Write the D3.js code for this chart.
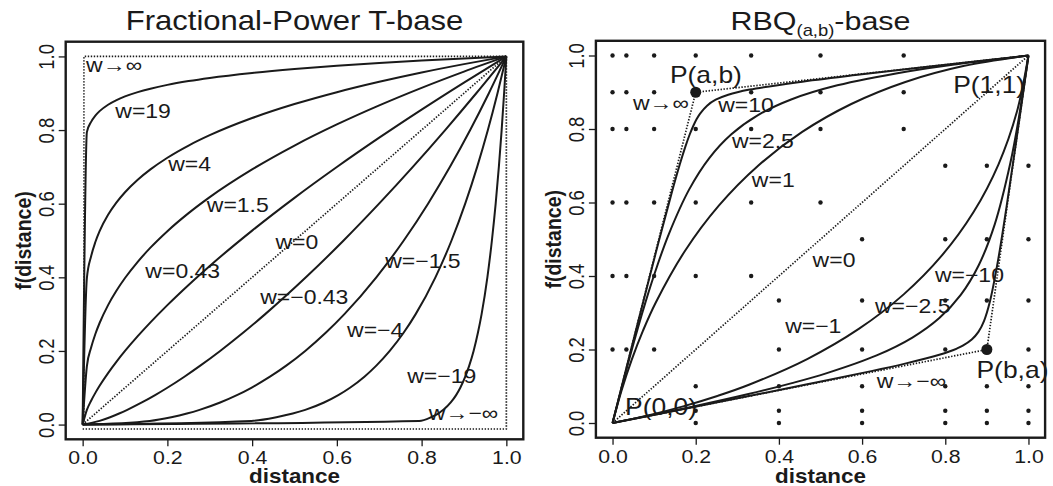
<!DOCTYPE html>
<html><head><meta charset="utf-8">
<script src="https://cdn.jsdelivr.net/npm/d3@7/dist/d3.min.js"></script>
<style>
html,body{margin:0;padding:0;background:#fff;}
svg{display:block;}
text{font-family:"Liberation Sans",Arial,Helvetica,sans-serif;fill:#1a1a1a;}
</style></head><body>
<svg id="chart" width="1053" height="486"></svg>
<script>
// ---------------- data ----------------
const tickValues = [0, 0.2, 0.4, 0.6, 0.8, 1.0];
const tickLabels = ["0.0", "0.2", "0.4", "0.6", "0.8", "1.0"];
const xAxisTitle = "distance";
const yAxisTitle = "f(distance)";

// Left panel: Fractional-Power T-base
const fpX    = [0,0.01,0.02,0.03,0.04,0.06,0.08,0.1,0.13,0.16,0.2,0.25,0.3,0.4,0.5,0.6,0.7,0.8,0.9,1];
const fpW19  = [0,0.7943,0.8223,0.8392,0.8514,0.8688,0.8814,0.8913,0.9030,0.9124,0.9227,0.9330,0.9416,0.9552,0.9659,0.9748,0.9823,0.9889,0.9947,1];
const fpW4   = [0,0.3981,0.4573,0.4959,0.5253,0.5697,0.6034,0.6310,0.6650,0.6931,0.7248,0.7579,0.7860,0.8326,0.8706,0.9029,0.9311,0.9564,0.9791,1];
const fpW15  = [0,0.1585,0.2091,0.2460,0.2759,0.3245,0.3641,0.3981,0.4421,0.4805,0.5253,0.5743,0.6178,0.6931,0.7579,0.8152,0.8670,0.9146,0.9587,1];
const fpW043 = [0,0.0399,0.0648,0.0861,0.1053,0.1398,0.1710,0.1999,0.2401,0.2776,0.3245,0.3793,0.4309,0.5269,0.6159,0.6996,0.7793,0.8556,0.9290,1];
// negative-w curves are the mirror images (x and y exchanged)
const fpCurves = [
  {xs: fpX, ys: fpW19}, {xs: fpX, ys: fpW4}, {xs: fpX, ys: fpW15}, {xs: fpX, ys: fpW043},
  {xs: fpW043, ys: fpX}, {xs: fpW15, ys: fpX}, {xs: fpW4, ys: fpX}, {xs: fpW19, ys: fpX}
];
const fpDiagX = [0, 1], fpDiagY = [0, 1];
const fpInfX = [0.003, 0.003, 1], fpInfY = [0, 1, 1];
const fpNegInfX = [0, 1, 1], fpNegInfY = [-0.012, -0.012, 1];
const fpLabels = ["w→∞","w=19","w=4","w=1.5","w=0.43","w=0","w=−0.43","w=−1.5","w=−4","w=−19","w→−∞"];
const fpLabelX = [0.008,0.077,0.202,0.293,0.148,0.455,0.419,0.714,0.624,0.766,0.817];
const fpLabelY = [0.957,0.833,0.689,0.578,0.397,0.478,0.328,0.424,0.239,0.113,0.012];

// Right panel: RBQ(a,b)-base
const rbqW10x  = [0,0.0583,0.1038,0.1412,0.1616,0.1753,0.1857,0.1946,0.2026,0.2105,0.2273,0.2481,0.2782,0.3299,0.4466,0.5889,0.7679,1];
const rbqW10y  = [0,0.2611,0.4623,0.6221,0.7033,0.7526,0.7857,0.8096,0.8278,0.8421,0.8636,0.8797,0.8933,0.9072,0.9275,0.9474,0.9707,1];
const rbqW25x  = [0,0.0438,0.0787,0.1085,0.1351,0.1840,0.2326,0.2857,0.3488,0.4294,0.5405,0.7087,0.8315,1];
const rbqW25y  = [0,0.1893,0.3268,0.4313,0.5135,0.6350,0.7209,0.7857,0.8372,0.8804,0.9189,0.9567,0.9770,1];
const rbqW1x   = [0,0.0215,0.046,0.0735,0.104,0.174,0.256,0.35,0.456,0.574,0.704,0.846,1];
const rbqW1y   = [0,0.088,0.172,0.252,0.328,0.468,0.592,0.70,0.792,0.868,0.928,0.972,1];
const rbqCurves = [
  {xs: rbqW10x, ys: rbqW10y}, {xs: rbqW25x, ys: rbqW25y}, {xs: rbqW1x, ys: rbqW1y},
  {xs: rbqW10y, ys: rbqW10x}, {xs: rbqW25y, ys: rbqW25x}, {xs: rbqW1y, ys: rbqW1x}
];
const rbqDiagX = [0, 1], rbqDiagY = [0, 1];
const rbqInfX = [0, 0.2, 1], rbqInfY = [0, 0.9, 1];
const rbqNegInfX = [0, 0.9, 1], rbqNegInfY = [0, 0.2, 1];
const rbqBigX = [0.2, 0.9], rbqBigY = [0.9, 0.2];
const dotX = [0,0.0333,0.1, 0,0.0333,0.1,0.2,0.3333, 0,0.0333,0.1,0.2,0.3333,0.5, 0,0.0333,0.1,0.2,0.3333,0.5,0.7, 0,0.0333,0.1,0.3333,0.5,0.7, 0,0.0333,0.1,0.2,0.3333,0.5,0.7,
              0.2,0.2,0.2, 0.4,0.4,0.4,0.4,0.4, 0.6,0.6,0.6,0.6,0.6,0.6, 0.8,0.8,0.8,0.8,0.8,0.8,0.8, 0.9,0.9,0.9,0.9,0.9,0.9, 1,1,1,1,1,1,1];
const dotY = [0.2,0.2,0.2, 0.4,0.4,0.4,0.4,0.4, 0.6,0.6,0.6,0.6,0.6,0.6, 0.8,0.8,0.8,0.8,0.8,0.8,0.8, 0.9,0.9,0.9,0.9,0.9,0.9, 1,1,1,1,1,1,1,
              0,0.0333,0.1, 0,0.0333,0.1,0.2,0.3333, 0,0.0333,0.1,0.2,0.3333,0.5, 0,0.0333,0.1,0.2,0.3333,0.5,0.7, 0,0.0333,0.1,0.3333,0.5,0.7, 0,0.0333,0.1,0.2,0.3333,0.5,0.7];
const rbqLabels = ["P(a,b)","w→∞","w=10","w=2.5","w=1","P(1,1)","w=0","w=−10","w=−2.5","w=−1","P(b,a)","w→−∞","P(0,0)"];
const rbqLabelX = [0.138,0.049,0.254,0.287,0.335,0.819,0.481,0.775,0.631,0.415,0.875,0.635,0.030];
const rbqLabelY = [0.925,0.852,0.847,0.747,0.643,0.898,0.425,0.384,0.298,0.244,0.122,0.094,0.022];

// ---------------- drawing ----------------
const SX = 1.15;       // horizontal stretch of the original picture's lettering
const INK = "#1a1a1a";
const svg = d3.select("#chart");

function txt(g, x, y, str, o = {}) {
  const tr = o.rot ? `translate(${x},${y}) rotate(-90) scale(1,${SX})` : `translate(${x},${y}) scale(${SX},1)`;
  return g.append("text").attr("transform", tr)
    .attr("font-size", o.size || 20)
    .attr("font-weight", o.bold ? "bold" : null)
    .attr("text-anchor", o.anchor || "start")
    .text(str);
}

function panel(fr) {
  const g = svg.append("g");
  const x = d3.scaleLinear().domain([-0.04, 1.04]).range([fr.l, fr.r]);
  const y = d3.scaleLinear().domain([-0.04, 1.04]).range([fr.b, fr.t]);
  // axes
  const ax = g.append("g").attr("transform", `translate(0,${fr.b})`)
    .call(d3.axisBottom(x).tickValues(tickValues).tickFormat((d, i) => tickLabels[i]).tickSize(7).tickSizeOuter(0).tickPadding(5));
  ax.select(".domain").remove();
  ax.selectAll("line").attr("stroke", INK).attr("stroke-width", 1.3);
  ax.selectAll("text").attr("font-size", 18.5).attr("fill", INK)
    .attr("font-family", '"Liberation Sans",Arial,sans-serif').attr("transform", `scale(${SX},1)`);
  const ay = g.append("g").attr("transform", `translate(${fr.l},0)`)
    .call(d3.axisLeft(y).tickValues(tickValues).tickFormat((d, i) => tickLabels[i]).tickSize(7).tickSizeOuter(0));
  ay.select(".domain").remove();
  ay.selectAll("line").attr("stroke", INK).attr("stroke-width", 1.3);
  ay.selectAll("text").attr("font-size", 18.5).attr("fill", INK)
    .attr("font-family", '"Liberation Sans",Arial,sans-serif')
    .attr("x", 0).attr("dy", null).attr("text-anchor", "middle")
    .attr("transform", `translate(-12,0) rotate(-90) scale(1,${SX})`);
  // frame
  g.append("rect").attr("x", fr.l).attr("y", fr.t).attr("width", fr.r - fr.l).attr("height", fr.b - fr.t)
    .attr("fill", "none").attr("stroke", INK).attr("stroke-width", 2.4);
  // axis titles
  txt(g, (fr.l + fr.r) / 2, 483, xAxisTitle, {size: 19.5, bold: true, anchor: "middle"});
  txt(g, fr.l - 35, (fr.t + fr.b) / 2, yAxisTitle, {size: 19.5, bold: true, anchor: "middle", rot: true});
  return {g, x, y};
}

function drawLine(p, xs, ys, curve, dotted) {
  const pts = xs.map((v, i) => [v, ys[i]]);
  p.g.append("path").datum(pts)
    .attr("d", d3.line().x(d => p.x(d[0])).y(d => p.y(d[1])).curve(curve))
    .attr("fill", "none").attr("stroke", INK)
    .attr("stroke-width", dotted ? 1.7 : 2)
    .attr("stroke-dasharray", dotted ? "1.4,1.6" : null)
    .attr("stroke-linejoin", "round");
}

// ---- left panel
const L = panel({l: 65.7, r: 523.3, t: 41.7, b: 439.3});
txt(L.g, 294.5, 30, "Fractional-Power T-base", {size: 27, anchor: "middle"});
drawLine(L, fpDiagX, fpDiagY, d3.curveLinear, true);
drawLine(L, fpInfX, fpInfY, d3.curveLinear, true);
drawLine(L, fpNegInfX, fpNegInfY, d3.curveLinear, true);
fpCurves.forEach(c => drawLine(L, c.xs, c.ys, d3.curveMonotoneX, false));
fpLabels.forEach((s, i) => txt(L.g, L.x(fpLabelX[i]), L.y(fpLabelY[i]), s, {size: 20}));

// ---- right panel
const R = panel({l: 595.9, r: 1045.1, t: 40.8, b: 437.7});
const tt = txt(R.g, 820.5, 30, "", {size: 26.5, anchor: "middle"});
tt.append("tspan").text("RBQ");
tt.append("tspan").attr("font-size", 16).attr("dy", 6).text("(a,b)");
tt.append("tspan").attr("dy", -6).text("-base");
R.g.selectAll("circle.grid").data(dotX).join("circle").attr("class", "grid")
  .attr("cx", (d, i) => R.x(dotX[i])).attr("cy", (d, i) => R.y(dotY[i])).attr("r", 2.2).attr("fill", INK);
drawLine(R, rbqDiagX, rbqDiagY, d3.curveLinear, true);
drawLine(R, rbqInfX, rbqInfY, d3.curveLinear, true);
drawLine(R, rbqNegInfX, rbqNegInfY, d3.curveLinear, true);
rbqCurves.forEach(c => drawLine(R, c.xs, c.ys, d3.curveCatmullRom.alpha(0.5), false));
R.g.selectAll("circle.big").data(rbqBigX).join("circle").attr("class", "big")
  .attr("cx", (d, i) => R.x(rbqBigX[i])).attr("cy", (d, i) => R.y(rbqBigY[i])).attr("r", 5.5).attr("fill", INK);
rbqLabels.forEach((s, i) => txt(R.g, R.x(rbqLabelX[i]), R.y(rbqLabelY[i]), s, {size: s[0] === "P" ? 23 : 20}));
</script>
</body></html>
